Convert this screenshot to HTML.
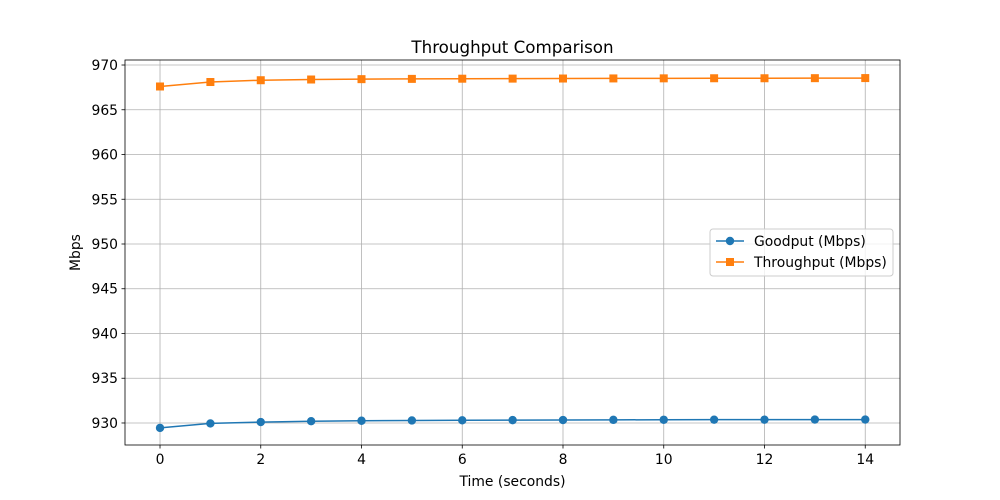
<!DOCTYPE html>
<html><head><meta charset="utf-8"><style>
html,body{margin:0;padding:0;background:#fff;}
svg{display:block;font-family:"DejaVu Sans","Liberation Sans",sans-serif;}
</style></head><body>
<svg id="chart" width="1000" height="500" viewBox="0 0 1000 500"></svg>
<script>
const xValues = [0,1,2,3,4,5,6,7,8,9,10,11,12,13,14];
const goodput = [929.45,929.95,930.1,930.2,930.25,930.28,930.3,930.32,930.33,930.35,930.36,930.37,930.37,930.38,930.38];
const throughput = [967.6,968.1,968.3,968.38,968.42,968.45,968.47,968.48,968.49,968.5,968.51,968.52,968.52,968.53,968.54];
const xTicks = [0,2,4,6,8,10,12,14];
const yTicks = [930,935,940,945,950,955,960,965,970];

const L=125,R=900,T=60,B=445;
const xMin=-0.695,xMax=14.69,yMin=927.54,yMax=970.56;
const sx=v=>L+(v-xMin)/(xMax-xMin)*(R-L);
const sy=v=>B-(v-yMin)/(yMax-yMin)*(B-T);
const svg=document.getElementById('chart');
const NS='http://www.w3.org/2000/svg';
function mk(tag,attrs,parent){const e=document.createElementNS(NS,tag);for(const k in attrs)e.setAttribute(k,attrs[k]);(parent||svg).appendChild(e);return e;}
const FS=13.9;

const grid=mk('g',{});


xTicks.forEach(t=>{
  const x=sx(t);
  const gl=mk('line',{x1:x,x2:x,y1:T,y2:B,stroke:'#b0b0b0','stroke-width':0.8},grid);
  
  
  mk('line',{x1:x,x2:x,y1:B,y2:B+3.5,stroke:'#000','stroke-width':0.8});
  const tx=mk('text',{x:x,y:B+19,'text-anchor':'middle','font-size':FS,fill:'#000'});
  tx.textContent=t;
  
  
});
yTicks.forEach(t=>{
  const y=sy(t);
  const gl=mk('line',{x1:L,x2:R,y1:y,y2:y,stroke:'#b0b0b0','stroke-width':0.8},grid);
  
  
  mk('line',{x1:L-3.5,x2:L,y1:y,y2:y,stroke:'#000','stroke-width':0.8});
  const tx=mk('text',{x:L-7,y:y+5,'text-anchor':'end','font-size':FS,fill:'#000'});
  tx.textContent=t;
  
  
});

function series(vals,color,marker,name){
  const g=mk('g',{});
  
  
  mk('polyline',{points:vals.map((v,i)=>sx(xValues[i])+','+sy(v)).join(' '),fill:'none',stroke:color,'stroke-width':1.5},g);
  vals.forEach((v,i)=>{
    const x=sx(xValues[i]),y=sy(v);
    let m;
    if(marker==='o') m=mk('circle',{cx:x,cy:y,r:4.2,fill:color},g);
    else m=mk('rect',{x:x-4,y:y-4,width:8,height:8,fill:color},g);
    
    
  });
}
series(goodput,'#1f77b4','o','goodput-series');
series(throughput,'#ff7f0e','s','throughput-series');

const frame=mk('rect',{x:L,y:T,width:R-L,height:B-T,fill:'none',stroke:'#000','stroke-width':0.8});



const title=mk('text',{x:(L+R)/2,y:T-7,'text-anchor':'middle','font-size':16.7,fill:'#000'});
title.textContent='Throughput Comparison';


const xt=mk('text',{x:(L+R)/2,y:486,'text-anchor':'middle','font-size':FS,fill:'#000'});
xt.textContent='Time (seconds)';


const yt=mk('text',{x:80,y:(T+B)/2,'text-anchor':'middle','font-size':FS,fill:'#000',transform:'rotate(-90 80 '+((T+B)/2)+')'});
yt.textContent='Mbps';



const lg=mk('g',{});


mk('rect',{x:710,y:229,width:183,height:47,rx:3,fill:'#fff','fill-opacity':0.8,stroke:'#ccc','stroke-width':1},lg);
const e1=mk('g',{},lg);


mk('line',{x1:716,x2:744,y1:241,y2:241,stroke:'#1f77b4','stroke-width':1.5},e1);
mk('circle',{cx:730,cy:241,r:4.2,fill:'#1f77b4'},e1);
const t1=mk('text',{x:754,y:246,'font-size':FS,fill:'#000'},e1);t1.textContent='Goodput (Mbps)';
const e2=mk('g',{},lg);


mk('line',{x1:716,x2:744,y1:262,y2:262,stroke:'#ff7f0e','stroke-width':1.5},e2);
mk('rect',{x:726,y:258,width:8,height:8,fill:'#ff7f0e'},e2);
const t2=mk('text',{x:754,y:267,'font-size':FS,fill:'#000'},e2);t2.textContent='Throughput (Mbps)';
</script>
</body></html>
